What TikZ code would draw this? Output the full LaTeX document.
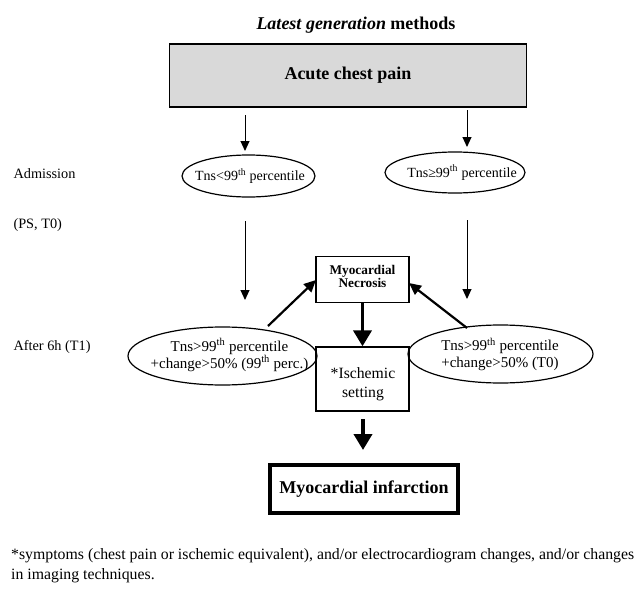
\documentclass[tikz,border=0pt]{standalone}
\usepackage{fontspec}
\setmainfont{Liberation Serif}
\usetikzlibrary{arrows.meta,shapes.geometric}
\begin{document}
\begin{tikzpicture}[x=1pt,y=-1pt,
  lbl/.style={anchor=west,font=\fontsize{14.3}{16}\selectfont},
  oval/.style={draw,ellipse,line width=1.2pt,inner sep=0pt},
  ovaltext/.style={inner sep=0pt,align=center,font=\fontsize{15}{17}\selectfont},
  sq/.style={draw,line width=1.3pt,inner sep=0pt,align=center},
  thinarr/.style={line width=1pt,-{Triangle[length=10,width=9]}},
  midarr/.style={line width=2.2pt,-{Triangle[length=12,width=11]}},
  thickarr/.style={line width=3.8pt,-{Triangle[length=16,width=18]}}]
\useasboundingbox (0,0) rectangle (638,589);
\node[font=\fontsize{18}{20}\selectfont\bfseries] (title) at (356,25) {\textit{Latest generation} methods};
\node[sq,fill=gray!30,minimum width=357,minimum height=63,font=\fontsize{18}{20}\selectfont\bfseries] (acp) at (348,75.5) {\raisebox{3pt}{Acute chest pain}};
\node[oval,minimum width=133,minimum height=42] (e1) at (248.5,176) {};
\node[ovaltext,font=\fontsize{14}{16}\selectfont] (e1t) at (250,176) {Tns<99\textsuperscript{th} percentile};
\node[oval,minimum width=140,minimum height=41] (e2) at (455,172.5) {};
\node[ovaltext,font=\fontsize{14}{16}\selectfont] (e2t) at (462,172.5) {Tns≥99\textsuperscript{th} percentile};
\node[oval,minimum width=189,minimum height=58] (e3) at (222.5,356) {};
\node[ovaltext] (e3t) at (229.5,355) {Tns>99\textsuperscript{th} percentile\\+change>50\% (99\textsuperscript{th} perc.)};
\node[oval,minimum width=185,minimum height=58] (e4) at (500.5,354) {};
\node[ovaltext] (e4t) at (500,354.5) {Tns>99\textsuperscript{th} percentile\\+change>50\% (T0)};
\node[sq,minimum width=93,minimum height=46] (nec) at (362.5,279.5) {};
\node[inner sep=0pt,align=center,font=\fontsize{13.3}{13.5}\selectfont\bfseries] (nect) at (362.5,276.5) {Myocardial\\Necrosis};
\node[sq,minimum width=93,minimum height=64] (isc) at (362.5,379) {};
\node[inner sep=0pt,align=center,font=\fontsize{15.7}{18.5}\selectfont] (isct) at (363,384) {*Ischemic\\setting};
\node[draw,line width=3.3pt,minimum width=188,minimum height=48,font=\fontsize{18}{20}\selectfont\bfseries] (mi) at (364,489) {Myocardial infarction};
\node[lbl] (adm) at (10,174) {Admission};
\node[lbl] (ps) at (10,225) {(PS, T0)};
\node[lbl] (t1) at (10,347) {After 6h (T1)};
\node[anchor=west,inner sep=0pt,align=left,font=\fontsize{15.8}{20}\selectfont] (foot) at (11,566) {*symptoms (chest pain or ischemic equivalent), and/or electrocardiogram changes, and/or changes\\in imaging techniques.};
\coordinate (a1s) at (245,115);
\coordinate (a1e) at (245,151);
\coordinate (a2s) at (467,110);
\coordinate (a2e) at (467,147);
\coordinate (b1s) at (245,221);
\coordinate (b1e) at (245,300);
\coordinate (b2s) at (467,220);
\coordinate (b2e) at (467,299);
\coordinate (d1s) at (268,326);
\coordinate (d1e) at (316,280);
\coordinate (d2s) at (467,328);
\coordinate (d2e) at (409,283);
\coordinate (t2s) at (363,419);
\coordinate (t2e) at (363,450);
\draw[thinarr] (a1s) -- (a1e);
\draw[thinarr] (a2s) -- (a2e);
\draw[thinarr] (b1s) -- (b1e);
\draw[thinarr] (b2s) -- (b2e);
\draw[midarr] (d1s) -- (d1e);
\draw[midarr] (d2s) -- (d2e);
\draw[thickarr] (nec.south) -- (isc.north);
\draw[thickarr] (t2s) -- (t2e);
\end{tikzpicture}
\end{document}
